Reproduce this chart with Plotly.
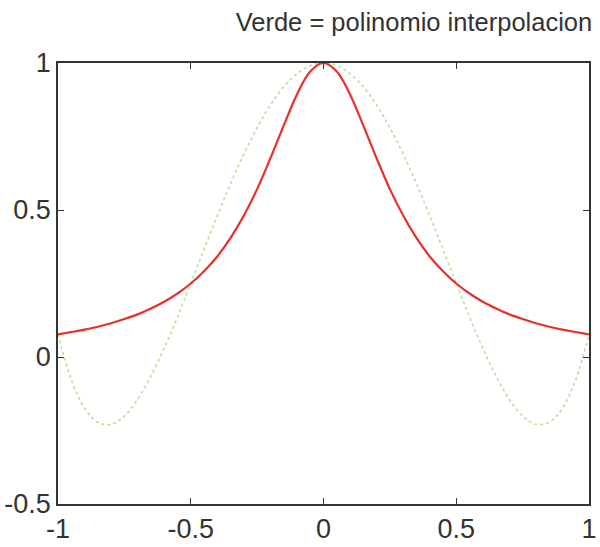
import plotly.graph_objects as go

# x positions (shared)
x_vals = [-1.0, -0.95, -0.9, -0.85, -0.8, -0.75, -0.7, -0.65, -0.6, -0.55, -0.5, -0.45, -0.4, -0.35, -0.3, -0.25,
          -0.2, -0.15, -0.1, -0.05, 0.0, 0.05, 0.1, 0.15, 0.2, 0.25, 0.3, 0.35, 0.4, 0.45, 0.5, 0.55, 0.6,
          0.65, 0.7, 0.75, 0.8, 0.85, 0.9, 0.95, 1.0]

# red curve (function)
red_half = [0.077, 0.085, 0.093, 0.103, 0.115, 0.129, 0.145, 0.165, 0.188, 0.216, 0.25, 0.292,
            0.342, 0.405, 0.481, 0.571, 0.676, 0.787, 0.893, 0.971, 1.0]
red_vals = red_half + red_half[-2::-1]

# green dotted curve (interpolation polynomial)
green_half = [0.077, -0.077, -0.174, -0.222, -0.229, -0.201, -0.144, -0.065, 0.030, 0.136, 0.25, 0.366,
              0.480, 0.590, 0.690, 0.780, 0.857, 0.919, 0.963, 0.991, 1.0]
green_vals = green_half + green_half[-2::-1]

x_ticks = [-1, -0.5, 0, 0.5, 1]
x_tick_text = ["-1", "-0.5", "0", "0.5", "1"]
y_ticks = [-0.5, 0, 0.5, 1]
y_tick_text = ["-0.5", "0", "0.5", "1"]

fig = go.Figure()
fig.add_trace(go.Scatter(x=x_vals, y=green_vals, mode="lines", line_shape="spline",
                         line=dict(color="#b4e0a0", width=1.6, dash="dot"), showlegend=False))
fig.add_trace(go.Scatter(x=x_vals, y=red_vals, mode="lines", line_shape="spline",
                         line=dict(color="#e8302a", width=2.2), showlegend=False))

axis_common = dict(showgrid=False, zeroline=False, showline=True, linecolor="#333333", linewidth=1.5,
                   ticks="inside", ticklen=6, tickcolor="#333333", mirror="ticks", automargin=False,
                   tickfont=dict(family="Liberation Sans, Arial, sans-serif", size=27, color="#333333"))

fig.update_xaxes(range=[-1, 1], tickvals=x_ticks, ticktext=x_tick_text, ticklabelstandoff=0, **axis_common)
fig.update_yaxes(range=[-0.5, 1], tickvals=y_ticks, ticktext=y_tick_text, ticklabelstandoff=0, **axis_common)

fig.update_layout(
    width=600, height=547,
    margin=dict(l=58, r=11, t=63, b=43),
    paper_bgcolor="white", plot_bgcolor="white",
    title=dict(text="Verde = polinomio interpolacion", x=0.987, xanchor="right", y=0.96, yanchor="middle",
               font=dict(family="Liberation Sans, Arial, sans-serif", size=25.5, color="#333333")),
)

fig.write_html("out.html")
